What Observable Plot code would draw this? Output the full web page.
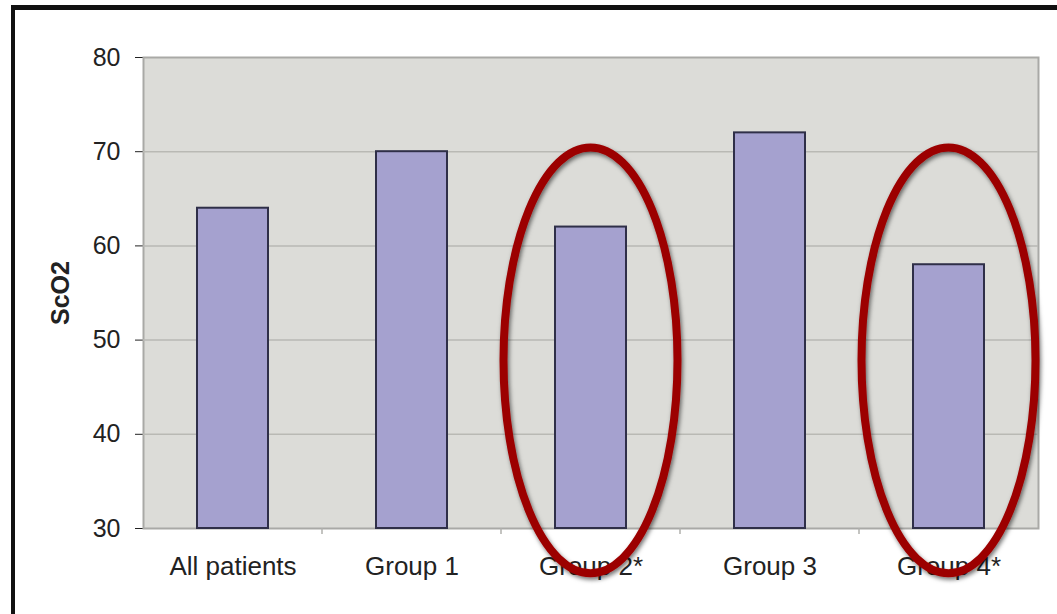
<!DOCTYPE html>
<html>
<head>
<meta charset="utf-8">
<script src="https://cdn.jsdelivr.net/npm/d3@7"></script>
<script src="https://cdn.jsdelivr.net/npm/@observablehq/plot@0.6"></script>
<style>
  html, body { margin: 0; padding: 0; background: #fff; }
  #wrap { position: relative; width: 1057px; height: 614px; overflow: hidden; background: #fff; }
  #border {
    position: absolute; left: 11px; top: 5px; width: 1100px; height: 604px;
    border-left: 4px solid #111; border-top: 5px solid #111; border-bottom: 2px solid #999;
    pointer-events: none;
  }
  #chart { position: absolute; left: 0; top: 0; }
  #chart svg g[aria-label="x-axis tick label"] text { font-size: 26px; }
</style>
</head>
<body>
<div id="wrap">
  <div id="chart"></div>
  <div id="border"></div>
</div>
<script>
// Mean ScO2 by patient group
const categories = ["All patients", "Group 1", "Group 2*", "Group 3", "Group 4*"];
const sco2 = [64, 70, 62, 72, 58];
const yTicks = [30, 40, 50, 60, 70, 80];
const yDomain = [30, 80];

// Groups circled as significantly different, and the vertical span of each ring (ScO2 units)
const ringed = ["Group 2*", "Group 4*"];
const ringSpan = [25.2, 70.4];

const data = categories.map((c, i) => ({group: c, value: sco2[i]}));
const font = "'Liberation Sans', Arial, Helvetica, sans-serif";

const plot = Plot.plot({
  width: 1057,
  height: 614,
  marginLeft: 143,
  marginRight: 19,
  marginTop: 57,
  marginBottom: 86,
  style: {fontFamily: font, fontSize: "25px", color: "#222", background: "transparent", overflow: "visible"},
  x: {domain: categories, padding: 0, label: null, tickSize: 0, tickPadding: 28},
  y: {domain: yDomain, ticks: yTicks, tickSize: 8, tickPadding: 15, label: null},
  marks: [
    Plot.frame({fill: "#dcdcd8", stroke: "#a9a9a6", strokeWidth: 2}),
    Plot.ruleY(yTicks.slice(1, -1), {stroke: "#b9b9b4", strokeWidth: 1.5}),
    Plot.barY(data, {
      x: "group", y1: yDomain[0], y2: "value",
      fill: "#a5a1cf", stroke: "#2f2f48", strokeWidth: 2,
      insetLeft: 54, insetRight: 54
    }),
    Plot.text(["ScO2"], {
      text: d => d, frameAnchor: "left", textAnchor: "middle", dx: -83, rotate: -90,
      fontWeight: "bold", fontSize: 25, fill: "#222"
    })
  ]
});

document.getElementById("chart").appendChild(plot);

// Extra decorations placed through the chart's own scales
const xs = plot.scale("x");
const ys = plot.scale("y");
const svg = d3.select(plot);

// Category tick labels a touch larger than the value labels
svg.selectAll("g[aria-label='x-axis'] text, g[aria-label='x-axis tick label'] text")
  .attr("font-size", 26);

// Gray tick stubs on the category boundaries, below the baseline
const base = ys.apply(yDomain[0]);
const bounds = categories.slice(1).map(c => xs.apply(c));
svg.append("g")
  .attr("stroke", "#b0b0ac").attr("stroke-width", 1.5)
  .selectAll("line").data(bounds).join("line")
  .attr("x1", d => d).attr("x2", d => d)
  .attr("y1", base).attr("y2", base + 6);

// Red rings around the highlighted groups, with a soft shadow
const defs = svg.append("defs");
const f = defs.append("filter").attr("id", "ringShadow")
  .attr("x", "-20%").attr("y", "-20%").attr("width", "140%").attr("height", "140%");
f.append("feDropShadow").attr("dx", 1.5).attr("dy", 2.5).attr("stdDeviation", 2)
  .attr("flood-color", "#000").attr("flood-opacity", 0.55);

const yTop = ys.apply(ringSpan[1]);
const yBot = ys.apply(ringSpan[0]);
svg.append("g")
  .attr("fill", "none").attr("stroke", "#9c0000").attr("stroke-width", 8)
  .attr("filter", "url(#ringShadow)")
  .selectAll("ellipse").data(ringed).join("ellipse")
  .attr("cx", d => xs.apply(d) + xs.bandwidth / 2)
  .attr("cy", (yTop + yBot) / 2)
  .attr("rx", xs.bandwidth * 0.486)
  .attr("ry", (yBot - yTop) / 2);
</script>
</body>
</html>
